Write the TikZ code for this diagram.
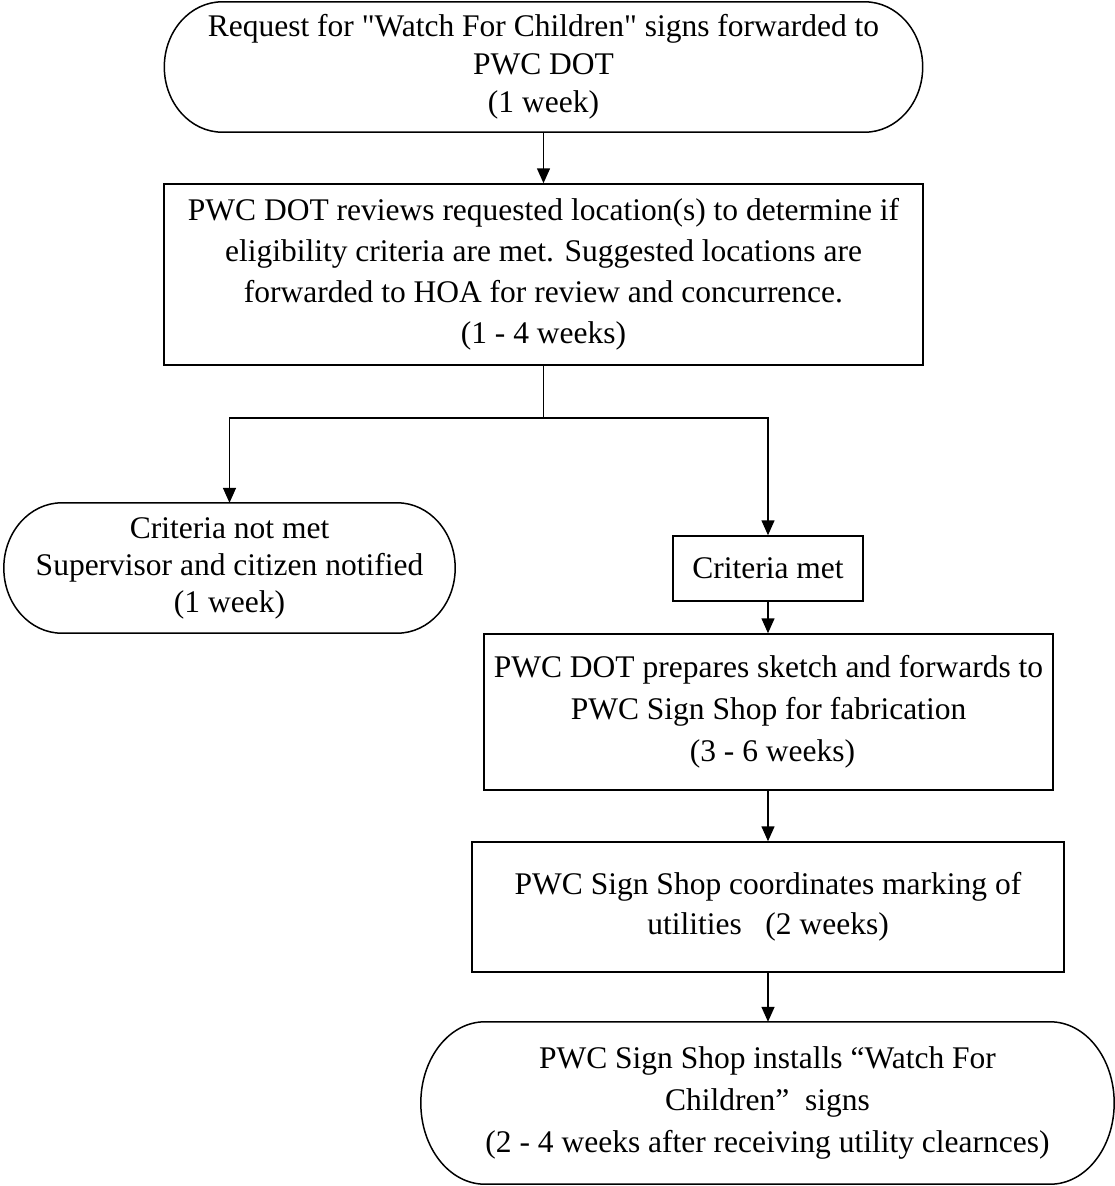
\documentclass[tikz,border=0pt]{standalone}
\usepackage{fontspec}
\setmainfont{Liberation Serif}[Ligatures=TeXOff]
\usetikzlibrary{arrows.meta,calc}
\tikzset{
  txt/.style={font=\fontsize{31.5}{38}\selectfont, align=center, inner sep=0pt},
  procbox/.style={txt, draw, line width=1.5pt},
  termnode/.style={txt},
  conn/.style={line width=1.5pt},
  arr/.style={conn, -{Triangle[width=13pt,length=15pt]}}
}
\newcommand\termshape[2]{%
  \draw[line width=1.5pt] let \p1=(#1.north west), \p2=(#1.south east), \n1={(\y1-\y2)/2} in
  (\x1+#2pt,\y1) -- (\x2-#2pt,\y1)
  arc[start angle=90,end angle=-90,x radius=#2pt,y radius=\n1]
  -- (\x1+#2pt,\y2)
  arc[start angle=270,end angle=90,x radius=#2pt,y radius=\n1] -- cycle;}
\begin{document}
\begin{tikzpicture}[x=1pt,y=-1pt]
\useasboundingbox (0,0) rectangle (1115,1186);

\node[termnode, minimum width=758pt, minimum height=130pt] (t1) at (543.5,67)
  {Request for "Watch For Children" signs forwarded to\\PWC DOT\\(1 week)};
\termshape{t1}{58}

\node[procbox, minimum width=759pt, minimum height=181pt,
  font=\fontsize{31.5}{41}\selectfont] (b2) at (543.5,274.5)
  {PWC DOT reviews requested location(s) to determine if\\eligibility criteria are met. Suggested locations are\\forwarded to HOA for review and concurrence.\\(1 - 4 weeks)};

\node[termnode, minimum width=451pt, minimum height=130pt,
  font=\fontsize{31.5}{37}\selectfont] (t2) at (229.5,568)
  {Criteria not met\\Supervisor and citizen notified\\(1 week)};
\termshape{t2}{58}

\node[procbox, minimum width=190pt, minimum height=65pt] (cm) at (768,568.5)
  {Criteria met};

\node[procbox, minimum width=569pt, minimum height=156pt,
  font=\fontsize{31.5}{42}\selectfont] (b3) at (768.5,712)
  {PWC DOT prepares sketch and forwards to\\PWC Sign Shop for fabrication\\\ (3 - 6 weeks)};

\node[procbox, minimum width=592pt, minimum height=130pt,
  font=\fontsize{31.5}{40}\selectfont] (b4) at (768,907)
  {PWC Sign Shop coordinates marking of\\utilities\ \ \ (2 weeks)};

\node[termnode, minimum width=693pt, minimum height=162pt,
  font=\fontsize{31.5}{42}\selectfont] (t3) at (767.5,1103)
  {PWC Sign Shop installs “Watch For\\Children”\ \ signs\\(2 - 4 weeks after receiving utility clearnces)};
\termshape{t3}{64}

\coordinate (br) at (543.5,418);
\draw[arr] (t1.south) -- (b2.north);
\draw[conn] (b2.south) -- (br);
\draw[arr] (br) -| (t2.north);
\draw[arr] (br) -| (cm.north);
\draw[arr] (cm.south) -- (cm.south |- b3.north);
\draw[arr] (b3.south -| b4.north) -- (b4.north);
\draw[arr] (b4.south) -- (b4.south |- t3.north);
\end{tikzpicture}
\end{document}
